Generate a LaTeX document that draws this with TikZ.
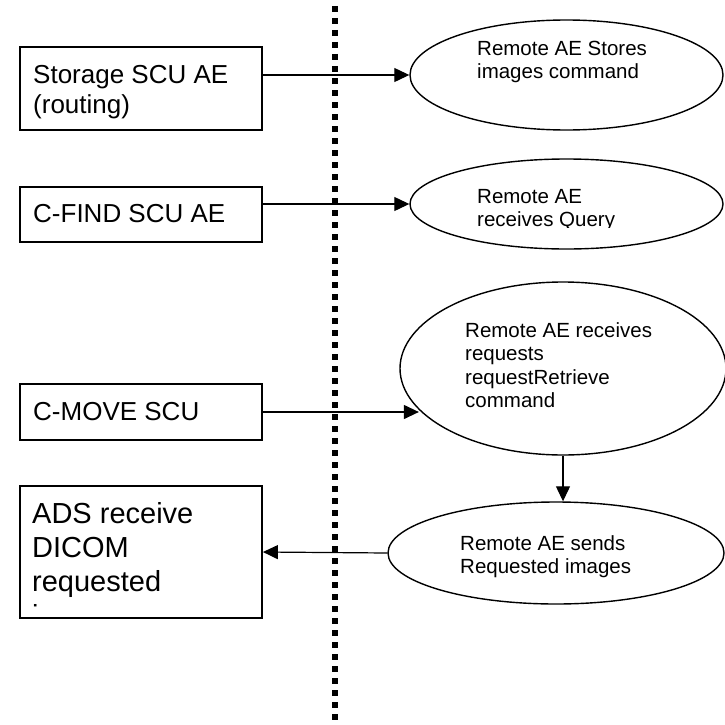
\documentclass[tikz,border=0pt]{standalone}
\usepackage{fontspec}
\setmainfont{Liberation Sans}
\usetikzlibrary{shapes,arrows.meta}
\tikzstyle{block} = [rectangle, draw, line width=1.8pt, inner sep=0pt]
\tikzstyle{oval} = [ellipse, draw, line width=1.4pt, inner sep=0pt]
\tikzstyle{boxtext} = [anchor=north west, align=left, inner sep=0pt,
    font=\fontsize{26}{30}\selectfont]
\tikzstyle{bigtext} = [anchor=north west, align=left, inner sep=0pt,
    font=\fontsize{29}{34}\selectfont]
\tikzstyle{ovaltext} = [anchor=north west, align=left, inner sep=0pt,
    font=\fontsize{20.5}{23.5}\selectfont]
\tikzstyle{line} = [draw, line width=1.2pt, -{Triangle[length=15pt,width=14pt]}]
\tikzstyle{divider} = [draw, line width=6pt, dash pattern=on 6pt off 6pt]

\begin{document}
\begin{tikzpicture}[x=1pt, y=-1pt]
    \useasboundingbox (0,0) rectangle (724,725);
    % Place nodes
    \node [block, minimum width=242pt, minimum height=83pt] (storage) at (141,88.5) {};
    \node [block, minimum width=242pt, minimum height=55pt] (cfind) at (141,214.5) {};
    \node [block, minimum width=242pt, minimum height=56pt] (cmove) at (141,412) {};
    \node [block, minimum width=242pt, minimum height=132pt] (ads) at (141,552) {};
    \node [oval, minimum width=313pt, minimum height=110pt] (stores) at (566.5,75) {};
    \node [oval, minimum width=313pt, minimum height=90pt] (query) at (566.5,204) {};
    \node [oval, minimum width=326pt, minimum height=173pt] (retrieve) at (563,368.5) {};
    \node [oval, minimum width=336pt, minimum height=102pt] (sends) at (556,553) {};
    % Texts
    \node [boxtext] (storagetxt) at (33,62) {\strut Storage SCU AE\\(routing)};
    \node [boxtext] (cfindtxt) at (33,201) {\strut C-FIND SCU AE};
    \node [boxtext] (cmovetxt) at (33,399) {\strut C-MOVE SCU};
    \begin{scope}
        \clip (22,488) rectangle (260,608);
        \node [bigtext] (adstxt) at (32,499.2) {\strut ADS receive\\DICOM\\requested\\images};
    \end{scope}
    \node [ovaltext] (storestxt) at (477,38.5) {\strut Remote AE Stores\\images command};
    \begin{scope}
        \clip (470,160) rectangle (700,227.5);
        \node [ovaltext] (querytxt) at (477,186.5) {\strut Remote AE\\receives Query};
    \end{scope}
    \node [ovaltext] (retrievetxt) at (465,320.5) {\strut Remote AE receives\\requests\\requestRetrieve\\command};
    \node [ovaltext] (sendstxt) at (460,533.5) {\strut Remote AE sends\\Requested images};
    % Divider
    \coordinate (divtop) at (335,6);
    \coordinate (divbot) at (335,720);
    \path [divider] (divtop) -- (divbot);
    % Draw edges
    \path [line] (storage.east |- stores.west) -- (stores.west);
    \path [line] (cfind.east |- query.west) -- (query.west);
    \path [line] (cmove.east) -- (cmove.east -| retrieve.196);
    \path [line] (retrieve.south) -- (retrieve.south |- sends.north);
    \path [line] (sends.west) -- (ads.east);
\end{tikzpicture}
\end{document}
